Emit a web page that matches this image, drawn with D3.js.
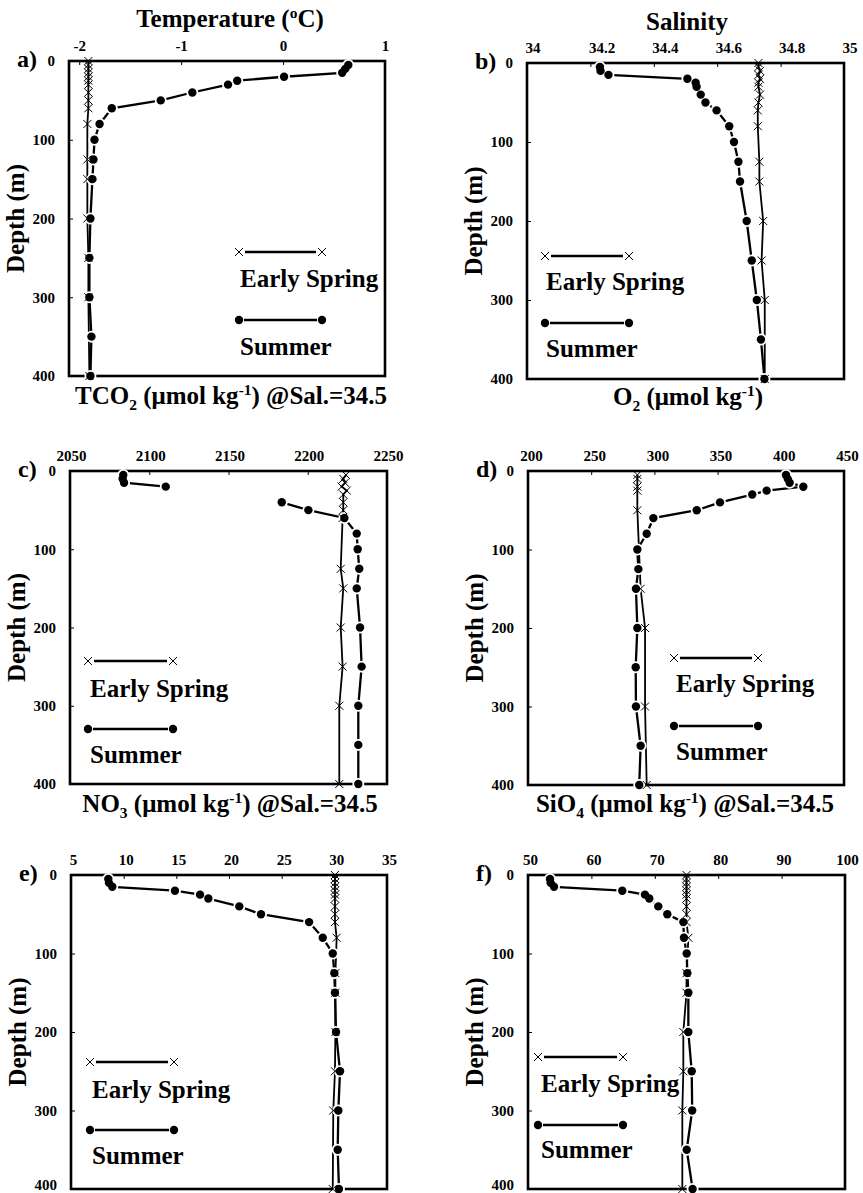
<!DOCTYPE html>
<html><head><meta charset="utf-8">
<script src="https://cdn.jsdelivr.net/npm/d3@7"></script>
<style>
body{margin:0;background:#fff}
svg{display:block}
text{font-family:"Liberation Serif","Times New Roman",serif;font-weight:bold;fill:#000}
</style>
</head><body>
<svg id="chart" width="863" height="1193"></svg>
<script>
// ---------------- DATA ----------------
const depthTicks = [0, 100, 200, 300, 400];
const depthSummer = [5,10,15,20,25,30,40,50,60,80,100,125,150,200,250,300,350,400];
const depthSpring = [0,5,10,15,20,25,30,40,50,60,80,125,150,200,250,300,400];
const depthSpringC = [5,10,15,20,25,30,40,50,60,125,150,200,250,300,400];
const depthSpringD = [5,10,20,25,50,150,200,300,400];

// a) Temperature
const tempTicks = [-2, -1, 0, 1];
const tempSummer = [0.64,0.61,0.58,0.01,-0.45,-0.54,-0.89,-1.20,-1.68,-1.80,-1.85,-1.86,-1.87,-1.89,-1.90,-1.90,-1.88,-1.89];
const tempSpring = [-1.91,-1.91,-1.91,-1.91,-1.91,-1.91,-1.91,-1.91,-1.91,-1.91,-1.92,-1.92,-1.92,-1.92,-1.91,-1.91,-1.90];

// b) Salinity
const salTicks = [34, 34.2, 34.4, 34.6, 34.8, 35];
const salSummer = [34.23,34.232,34.257,34.506,34.532,34.535,34.548,34.563,34.598,34.638,34.653,34.667,34.672,34.693,34.709,34.725,34.738,34.749];
const salSpring = [34.73,34.73,34.735,34.73,34.735,34.73,34.73,34.735,34.73,34.728,34.728,34.733,34.733,34.745,34.74,34.75,34.75];

// c) TCO2 @ Sal 34.5 (null = no sample)
const cTicks = [2050, 2100, 2150, 2200, 2250];
const cSummer = [2083.6,2083.2,2084.1,2110.4,null,null,2183.6,2200.4,2223.1,2230.9,2231.5,2232.5,2230.9,2233,2234,2231.9,2231.9,2231.9];
const cSpring = [2224.1,2222.4,2223.5,2221.4,2224.6,2222.4,2222.4,2222.4,2222,2220.8,2222.4,2220.8,2222,2219.9,2219.9];

// d) O2
const dTicks = [200, 250, 300, 350, 400, 450];
const dSummer = [404.1,405.5,407,417.8,388.8,377.4,351.9,333.5,299.2,293.9,286.5,287.3,285.4,286.5,285.2,285.4,289.1,288];
const dSpring = [286.5,286.5,286.5,286.5,286.5,289.1,292.6,292.6,293.9];

// e) NO3 @ Sal 34.5
const eTicks = [5, 10, 15, 20, 25, 30, 35];
const eSummer = [8.54,8.6,8.92,14.87,17.25,18.04,20.98,23.04,27.6,28.9,29.85,30.0,30.06,30.16,30.54,30.38,30.32,30.44];
const eSpring = [30.06,30.06,30.06,30.06,30.06,30.06,30.06,30.06,30.06,30.06,30.22,30.1,30.1,30.1,30.06,29.9,29.85];

// f) SiO4 @ Sal 34.5
const fTicks = [50, 60, 70, 80, 90, 100];
const fSummer = [53.47,53.57,54.1,64.87,68.45,69.13,70.55,71.97,74.5,74.6,75.03,75.13,75.29,75.29,75.82,75.9,75.03,75.96];
const fSpring = [75.0,75.0,75.0,75.0,75.0,75.0,75.0,75.0,75.0,75.0,75.3,75.0,75.0,74.5,74.5,74.34,74.34];

const legendLabels = ["Early Spring", "Summer"];

// ---------------- LAYOUT ----------------
const plain = d => String(d);
const panels = [
  {label:"a)", domain:[-2.1,1], ticks:tempTicks, anchor:"middle", dx:0,
   summer:[depthSummer,tempSummer], spring:[depthSpring,tempSpring],
   box:{x0:69,y0:61,x1:385,y1:376},
   leg:{x1:239,x2:322,ySp:252,tx:240,tyES:287,ySu:320,tyS:355},
   top:[["Temperature ("],["o","sup"],["C)"]], topPos:[230,27],
   bottom:[["TCO"],["2","sub"],[" (\u03bcmol kg"],["-1","sup"],[") @Sal.=34.5"]], bottomPos:[231,404]},
  {label:"b)", domain:[34,35], ticks:salTicks, anchor:"start", dx:-2,
   summer:[depthSummer,salSummer], spring:[depthSpring,salSpring],
   box:{x0:527,y0:63,x1:844,y1:379},
   leg:{x1:545,x2:629,ySp:256,tx:546,tyES:290,ySu:323,tyS:357},
   top:[["Salinity"]], topPos:[687,30],
   bottom:[["O"],["2","sub"],[" (\u03bcmol kg"],["-1","sup"],[")"]], bottomPos:[688,405]},
  {label:"c)", domain:[2050,2250], ticks:cTicks, anchor:"middle", dx:1,
   summer:[depthSummer,cSummer], spring:[depthSpringC,cSpring],
   box:{x0:70,y0:471,x1:387,y1:784},
   leg:{x1:88,x2:173,ySp:661,tx:90,tyES:697,ySu:729,tyS:763},
   top:null,
   bottom:[["NO"],["3","sub"],[" (\u03bcmol kg"],["-1","sup"],[") @Sal.=34.5"]], bottomPos:[230,812]},
  {label:"d)", domain:[200,450], ticks:dTicks, anchor:"middle", dx:3,
   summer:[depthSummer,dSummer], spring:[depthSpringD,dSpring],
   box:{x0:528,y0:471,x1:844,y1:785},
   leg:{x1:674,x2:758,ySp:658,tx:676,tyES:692,ySu:726,tyS:760},
   top:null,
   bottom:[["SiO"],["4","sub"],[" (\u03bcmol kg"],["-1","sup"],[") @Sal.=34.5"]], bottomPos:[685,812]},
  {label:"e)", domain:[5,35], ticks:eTicks, anchor:"middle", dx:2,
   summer:[depthSummer,eSummer], spring:[depthSpring,eSpring],
   box:{x0:71,y0:875,x1:387,y1:1189},
   leg:{x1:90,x2:174,ySp:1062,tx:92,tyES:1098,ySu:1130,tyS:1164},
   top:null, bottom:null},
  {label:"f)", domain:[50,100], ticks:fTicks, anchor:"middle", dx:2,
   summer:[depthSummer,fSummer], spring:[depthSpring,fSpring],
   box:{x0:528,y0:875,x1:845,y1:1189},
   leg:{x1:538,x2:623,ySp:1057,tx:541,tyES:1092,ySu:1125,tyS:1158},
   top:null, bottom:null}
];

const svg = d3.select("#chart");
const FONT = '"Liberation Serif","Times New Roman",serif';
const crossPath = "M-4,-4L4,4M-4,4L4,-4";
const H = 1193;

function richText(sel, parts) {
  let shift = 0;
  parts.forEach(([t, m]) => {
    const target = m === "sub" ? 6 : m === "sup" ? -9 : 0;
    const ts = sel.append("tspan").attr("dy", target - shift).text(t);
    if (m) ts.attr("font-size", "0.62em");
    shift = target;
  });
}

panels.forEach(p => {
  const b = p.box;
  const x = d3.scaleLinear().domain(p.domain).range([b.x0, b.x1]);
  const y = d3.scaleLinear().domain([0, 400]).range([b.y0, b.y1]);
  const g = svg.append("g");

  // top axis
  const gx = g.append("g").attr("transform", `translate(0,${b.y0})`)
    .call(d3.axisTop(x).tickValues(p.ticks).tickFormat(plain).tickSize(-4).tickPadding(10));
  gx.select(".domain").remove();
  gx.selectAll(".tick line").attr("stroke", "#000").attr("stroke-width", 1);
  gx.selectAll(".tick text").attr("font-family", FONT).attr("font-weight", "bold")
    .attr("font-size", 15).attr("text-anchor", p.anchor).attr("dx", p.dx);

  // left axis
  const gy = g.append("g").attr("transform", `translate(${b.x0},0)`)
    .call(d3.axisLeft(y).tickValues(depthTicks).tickFormat(plain).tickSize(-4).tickPadding(14));
  gy.select(".domain").remove();
  gy.selectAll(".tick line").attr("stroke", "#000").attr("stroke-width", 1);
  gy.selectAll(".tick text").attr("font-family", FONT).attr("font-weight", "bold").attr("font-size", 15)
    .attr("dy", d => (y(d) > H - 10 ? "0.05em" : "0.32em"));

  // frame
  g.append("rect").attr("x", b.x0).attr("y", b.y0)
    .attr("width", b.x1 - b.x0).attr("height", b.y1 - b.y0)
    .attr("fill", "none").attr("stroke", "#000").attr("stroke-width", 2.6);

  // panel label
  g.append("text").attr("x", b.x0 - 52).attr("y", b.y0 + 6).attr("font-size", 24).text(p.label);

  // depth title
  g.append("text").attr("transform", `translate(${b.x0 - 45},${(b.y0 + b.y1) / 2}) rotate(-90)`)
    .attr("text-anchor", "middle").attr("font-size", 25).text("Depth (m)");

  // data
  const su = p.summer[0].map((d, i) => ({d: d, v: p.summer[1][i]}));
  const sp = p.spring[0].map((d, i) => ({d: d, v: p.spring[1][i]}));
  const line = d3.line().defined(d => d.v != null).x(d => x(d.v)).y(d => y(d.d));

  g.append("path").datum(sp).attr("d", line).attr("fill", "none").attr("stroke", "#000").attr("stroke-width", 1.8);
  g.append("path").datum(su).attr("d", line).attr("fill", "none").attr("stroke", "#000").attr("stroke-width", 2.3);

  const suDef = su.filter(d => d.v != null);
  g.selectAll(".halo").data(suDef).join("circle").attr("class", "halo")
    .attr("cx", d => x(d.v)).attr("cy", d => y(d.d)).attr("r", 6).attr("fill", "#fff");
  g.selectAll(".cross").data(sp).join("path").attr("class", "cross")
    .attr("transform", d => `translate(${x(d.v)},${y(d.d)})`).attr("d", crossPath)
    .attr("stroke", "#000").attr("stroke-width", 1).attr("fill", "none");
  g.selectAll(".dot").data(suDef).join("circle").attr("class", "dot")
    .attr("cx", d => x(d.v)).attr("cy", d => y(d.d)).attr("r", 4.2).attr("fill", "#000");

  // legend
  const L = p.leg;
  g.append("line").attr("x1", L.x1 + 6).attr("x2", L.x2 - 6).attr("y1", L.ySp).attr("y2", L.ySp)
    .attr("stroke", "#000").attr("stroke-width", 2.4);
  [L.x1, L.x2].forEach(cx => g.append("path").attr("transform", `translate(${cx},${L.ySp})`)
    .attr("d", crossPath).attr("stroke", "#000").attr("stroke-width", 1).attr("fill", "none"));
  g.append("text").attr("x", L.tx).attr("y", L.tyES).attr("font-size", 25).text(legendLabels[0]);
  g.append("line").attr("x1", L.x1 + 5).attr("x2", L.x2 - 5).attr("y1", L.ySu).attr("y2", L.ySu)
    .attr("stroke", "#000").attr("stroke-width", 2.4);
  [L.x1, L.x2].forEach(cx => g.append("circle").attr("cx", cx).attr("cy", L.ySu).attr("r", 4.2).attr("fill", "#000"));
  g.append("text").attr("x", L.tx).attr("y", L.tyS).attr("font-size", 25).text(legendLabels[1]);

  // titles
  if (p.top) {
    const t = g.append("text").attr("x", p.topPos[0]).attr("y", p.topPos[1])
      .attr("text-anchor", "middle").attr("font-size", 25);
    richText(t, p.top);
  }
  if (p.bottom) {
    const t = g.append("text").attr("x", p.bottomPos[0]).attr("y", p.bottomPos[1])
      .attr("text-anchor", "middle").attr("font-size", 25);
    richText(t, p.bottom);
  }
});
</script>
</body></html>
